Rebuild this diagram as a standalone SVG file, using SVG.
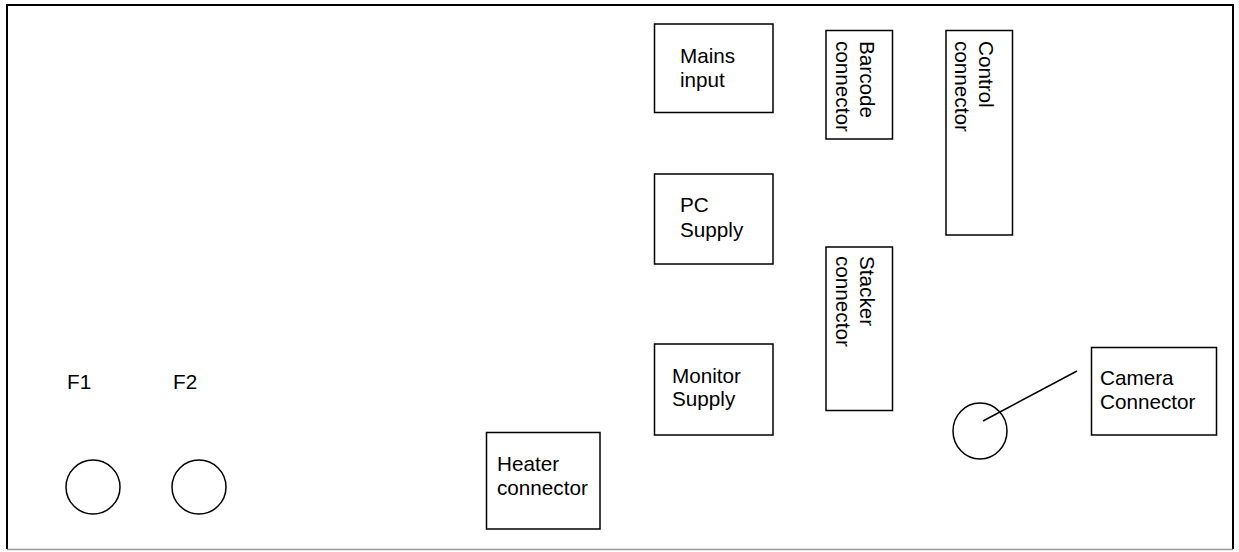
<svg xmlns="http://www.w3.org/2000/svg" width="1239" height="552" viewBox="0 0 1239 552">
<style>
.box{fill:#fff;stroke:#000;stroke-width:1.5}
.rnd{fill:none;stroke:#000;stroke-width:1.5}
.lbl{font-family:"Liberation Sans",Arial,sans-serif;font-size:20.7px;fill:#000}
</style>
<rect x="0" y="0" width="1239" height="552" fill="#fff"/>
<g id="frame">
<path d="M7,549 L7,5 L1233,5 L1233,549" fill="none" stroke="#000" stroke-width="2"/>
<line x1="7" y1="549.5" x2="1233" y2="549.5" stroke="#999" stroke-width="1.5"/>
</g>
<g id="connectors">
<line x1="983" y1="421" x2="1077" y2="371" stroke="#000" stroke-width="1.5"/>
</g>
<g id="mains">
<rect class="box" x="654.5" y="24" width="118.5" height="88.5"/>
<text class="lbl" x="680" y="63">Mains</text>
<text class="lbl" x="680" y="87">input</text>
</g>
<g id="pc-supply">
<rect class="box" x="654.5" y="174" width="118.5" height="90"/>
<text class="lbl" x="680" y="212">PC</text>
<text class="lbl" x="680" y="237">Supply</text>
</g>
<g id="monitor-supply">
<rect class="box" x="654.5" y="344" width="118.5" height="91"/>
<text class="lbl" x="672" y="383">Monitor</text>
<text class="lbl" x="672" y="406">Supply</text>
</g>
<g id="barcode">
<rect class="box" x="826" y="30.5" width="66.5" height="108.5"/>
<g transform="translate(860,41) rotate(90)">
<text class="lbl" x="0" y="0">Barcode</text>
<text class="lbl" x="0" y="24">connector</text>
</g>
</g>
<g id="control">
<rect class="box" x="946" y="30.5" width="66.5" height="204.5"/>
<g transform="translate(979,41) rotate(90)">
<text class="lbl" x="0" y="0">Control</text>
<text class="lbl" x="0" y="24">connector</text>
</g>
</g>
<g id="stacker">
<rect class="box" x="826" y="247" width="66.5" height="163.5"/>
<g transform="translate(860,256) rotate(90)">
<text class="lbl" x="0" y="0">Stacker</text>
<text class="lbl" x="0" y="24">connector</text>
</g>
</g>
<g id="camera">
<rect class="box" x="1091.5" y="347.5" width="125" height="87.5"/>
<text class="lbl" x="1100" y="385">Camera</text>
<text class="lbl" x="1100" y="409">Connector</text>
</g>
<g id="camera-port">
<ellipse class="rnd" cx="980" cy="431" rx="27" ry="28"/>
</g>
<g id="heater">
<rect class="box" x="486.5" y="432.5" width="113.5" height="96.5"/>
<text class="lbl" x="497" y="471">Heater</text>
<text class="lbl" x="497" y="495">connector</text>
</g>
<g id="f1">
<text class="lbl" x="67" y="389">F1</text>
<circle class="rnd" cx="93" cy="487" r="27"/>
</g>
<g id="f2">
<text class="lbl" x="173" y="389">F2</text>
<circle class="rnd" cx="199" cy="487" r="27"/>
</g>
</svg>
